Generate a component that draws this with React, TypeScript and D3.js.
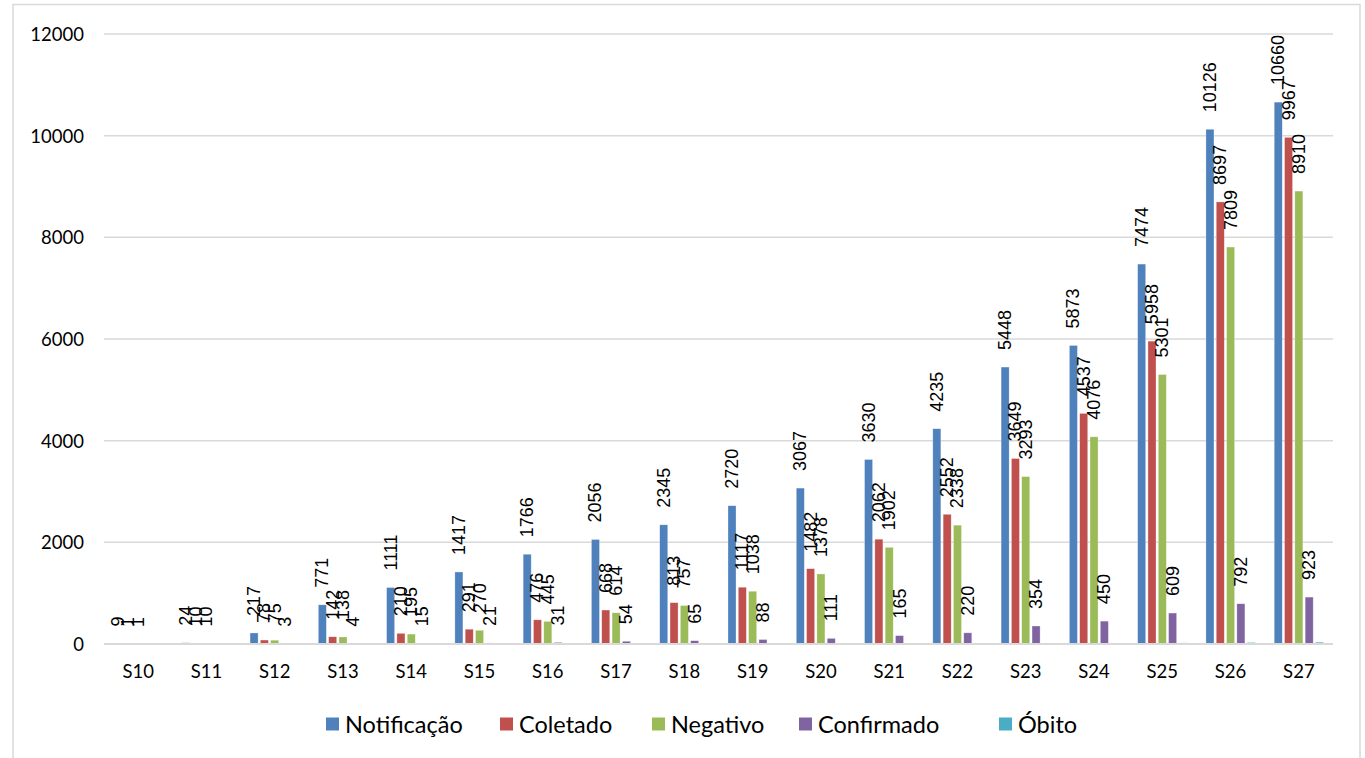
import * as d3 from "d3";

const categories = ["S10", "S11", "S12", "S13", "S14", "S15", "S16", "S17", "S18", "S19", "S20", "S21", "S22", "S23", "S24", "S25", "S26", "S27"];
const seriesNames = ["Notificação", "Coletado", "Negativo", "Confirmado", "Óbito"];
const notificacao = [9, 24, 217, 771, 1111, 1417, 1766, 2056, 2345, 2720, 3067, 3630, 4235, 5448, 5873, 7474, 10126, 10660];
const coletado = [1, 10, 78, 142, 210, 291, 476, 668, 813, 1117, 1482, 2062, 2552, 3649, 4537, 5958, 8697, 9967];
const negativo = [1, 10, 75, 138, 195, 270, 445, 614, 757, 1038, 1378, 1902, 2338, 3293, 4076, 5301, 7809, 8910];
const confirmado: (number | null)[] = [null, null, 3, 4, 15, 21, 31, 54, 65, 88, 111, 165, 220, 354, 450, 609, 792, 923];
const obito: (number | null)[] = [null, null, null, null, 1, 1, 2, 3, 4, 5, 6, 8, 10, 14, 18, 22, 30, 36];
const yTicks = [0, 2000, 4000, 6000, 8000, 10000, 12000];
const colors = ["#4F81BD", "#C0504D", "#9BBB59", "#8064A2", "#4BACC6"];
const labelled = [true, true, true, true, false];

const allSeries = [notificacao, coletado, negativo, confirmado, obito];
const legendX = [326, 500, 652, 799, 999];

export default function App() {
  const left = 104;
  const right = 1333;
  const x0 = d3.scaleBand<string>().domain(categories).range([left, right]).padding(0);
  const x1 = d3
    .scaleBand<string>()
    .domain(seriesNames)
    .range([0, x0.bandwidth()])
    .paddingInner(0.22)
    .paddingOuter(0.92);
  const y = d3.scaleLinear().domain([0, 12000]).range([644, 34]);
  const font = "Lato, 'Open Sans', sans-serif";

  return (
    <svg
      width={1365}
      height={758}
      style={{ position: "absolute", left: 0, top: 0, background: "#fff" }}
    >
      <rect x={13} y={4.5} width={1347} height={800} fill="#fff" stroke="#d9d9d9" strokeWidth={1.5} />
      {yTicks.slice(1).map((t) => (
        <line key={t} x1={left} x2={right} y1={y(t)} y2={y(t)} stroke="#d9d9d9" strokeWidth={1.5} />
      ))}
      {yTicks.map((t) => (
        <text
          key={"l" + t}
          x={84}
          y={y(t)}
          textAnchor="end"
          dominantBaseline="central"
          fontFamily={font}
          fontSize={18.5}
          fill="#000"
        >
          {t}
        </text>
      ))}
      {allSeries.map((vals, si) =>
        vals.map((v, ci) =>
          v == null ? null : (
            <rect
              key={si + "-" + ci}
              x={(x0(categories[ci]) as number) + (x1(seriesNames[si]) as number)}
              y={y(v)}
              width={x1.bandwidth()}
              height={y(0) - y(v)}
              fill={colors[si]}
              stroke="#fff"
              strokeOpacity={0.5}
              strokeWidth={0.6}
            />
          )
        )
      )}
      <line x1={left} x2={right} y1={y(0)} y2={y(0)} stroke="#d9d9d9" strokeWidth={2} />
      {allSeries.map((vals, si) =>
        labelled[si]
          ? vals.map((v, ci) => {
              if (v == null) return null;
              const cx = (x0(categories[ci]) as number) + (x1(seriesNames[si]) as number) + x1.bandwidth() / 2;
              const ty = y(v) - 17;
              return (
                <text
                  key={"t" + si + "-" + ci}
                  transform={`translate(${cx},${ty}) rotate(-90)`}
                  textAnchor="start"
                  dominantBaseline="central"
                  fontFamily="'Liberation Sans', Arial, sans-serif"
                  fontSize={18}
                  fill="#000"
                >
                  {v}
                </text>
              );
            })
          : null
      )}
      {categories.map((c) => (
        <text
          key={"c" + c}
          x={(x0(c) as number) + x0.bandwidth() / 2}
          y={678}
          textAnchor="middle"
          fontFamily={font}
          fontSize={18.5}
          fill="#000"
        >
          {c}
        </text>
      ))}
      {seriesNames.map((s, i) => (
        <g key={"lg" + s} transform={`translate(${legendX[i]},724)`}>
          <rect x={0} y={-6.5} width={13} height={13} fill={colors[i]} />
          <text x={19} y={0} dominantBaseline="central" fontFamily={font} fontSize={23.5} fill="#000">
            {s}
          </text>
        </g>
      ))}
    </svg>
  );
}
